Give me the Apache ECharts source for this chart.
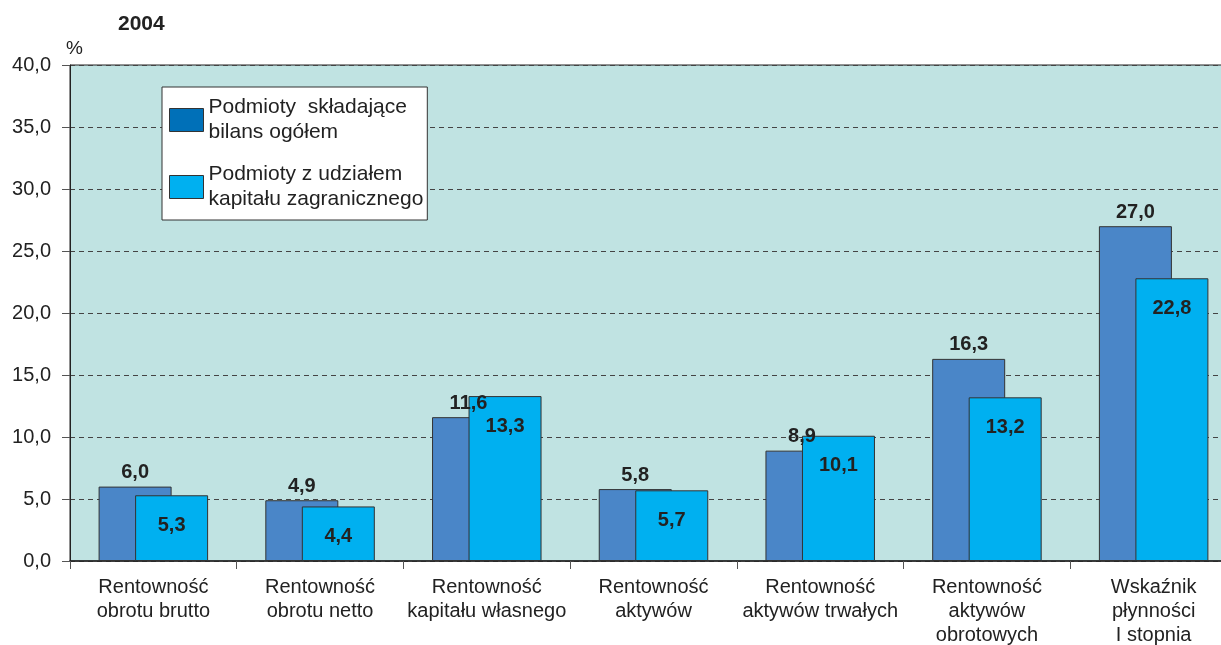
<!DOCTYPE html>
<html>
<head>
    <meta charset="utf-8">
    <title>2004</title>
    <script type="text/javascript" src="https://cdn.jsdelivr.net/npm/echarts@6/dist/echarts.min.js"></script>
    <style>
        html, body { margin: 0; padding: 0; background: #fff; }
    </style>
</head>
<body>

<div id="main" style="width: 1221px;height:645px;"></div>
<script type="text/javascript">
    // kategorie (wskaźniki)
    var categories = [
        'Rentowność\nobrotu brutto',
        'Rentowność\nobrotu netto',
        'Rentowność\nkapitału własnego',
        'Rentowność\naktywów',
        'Rentowność\naktywów trwałych',
        'Rentowność\naktywów\nobrotowych',
        'Wskaźnik\npłynności\nI stopnia'
    ];
    var seriesNames = [
        'Podmioty  składające\nbilans ogółem',
        'Podmioty z udziałem\nkapitału zagranicznego'
    ];
    // podmioty składające bilans ogółem
    var ogolem = [6.0, 4.9, 11.6, 5.8, 8.9, 16.3, 27.0];
    // podmioty z udziałem kapitału zagranicznego
    var zagraniczne = [5.3, 4.4, 13.3, 5.7, 10.1, 13.2, 22.8];

    var fmt = function (v) {
        return Number(v).toFixed(1).replace('.', ',');
    };

    var myChart = echarts.init(document.getElementById('main'));

    var option = {
        animation: false,
        textStyle: { fontFamily: 'Liberation Sans, Arial, sans-serif' },
        title: {
            text: '2004',
            left: 113,
            top: 9,
            textStyle: { fontSize: 21, fontWeight: 'bold', color: '#222' }
        },
        graphic: [{
            type: 'text',
            left: 66,
            top: 39,
            style: { text: '%', fill: '#222', font: '19px Liberation Sans' }
        }],
        legend: {
            orient: 'vertical',
            left: 162,
            top: 87,
            padding: [8, 4, 8, 7],
            itemGap: 17,
            itemWidth: 34,
            itemHeight: 23,
            icon: 'rect',
            backgroundColor: '#fff',
            borderColor: '#333',
            borderWidth: 1,
            borderRadius: 0,
            textStyle: { fontSize: 21, lineHeight: 25, color: '#222' },
            data: [
                { name: seriesNames[0], itemStyle: { color: '#0070b8', borderColor: '#333', borderWidth: 1 } },
                { name: seriesNames[1], itemStyle: { color: '#00b0f0', borderColor: '#333', borderWidth: 1 } }
            ]
        },
        grid: {
            left: 70,
            top: 65,
            width: 1167,
            height: 496,
            outerBoundsMode: 'none',
            show: true,
            backgroundColor: '#c0e3e2',
            borderColor: '#222',
            borderWidth: 1
        },
        xAxis: {
            type: 'category',
            data: categories,
            axisLine: { lineStyle: { color: '#222', width: 1.5 } },
            axisTick: { show: true, length: 8, lineStyle: { color: '#555' } },
            axisLabel: { fontSize: 20, lineHeight: 24, color: '#222', margin: 14, interval: 0 }
        },
        yAxis: {
            type: 'value',
            min: 0,
            max: 40,
            interval: 5,
            axisLine: { show: true, lineStyle: { color: '#222' } },
            axisTick: { show: true, length: 8, lineStyle: { color: '#555' } },
            axisLabel: { fontSize: 20, color: '#222', margin: 19, formatter: fmt },
            splitLine: { lineStyle: { type: [5, 4], color: '#444', width: 1 } }
        },
        series: [
            {
                name: seriesNames[0],
                type: 'bar',
                data: ogolem,
                barWidth: 73,
                barGap: '-50%',
                itemStyle: { color: '#4a86c8', borderColor: '#333', borderWidth: 1 },
                label: {
                    show: true,
                    position: 'top',
                    distance: 4,
                    fontSize: 20,
                    fontWeight: 'bold',
                    color: '#222',
                    formatter: function (p) { return fmt(p.value); }
                }
            },
            {
                name: seriesNames[1],
                type: 'bar',
                data: zagraniczne,
                barWidth: 73,
                itemStyle: { color: '#00b0f0', borderColor: '#333', borderWidth: 1 },
                label: {
                    show: true,
                    position: 'insideTop',
                    distance: 20,
                    fontSize: 20,
                    fontWeight: 'bold',
                    color: '#222',
                    formatter: function (p) { return fmt(p.value); }
                }
            }
        ]
    };

    myChart.setOption(option);
</script>

</body>
</html>
